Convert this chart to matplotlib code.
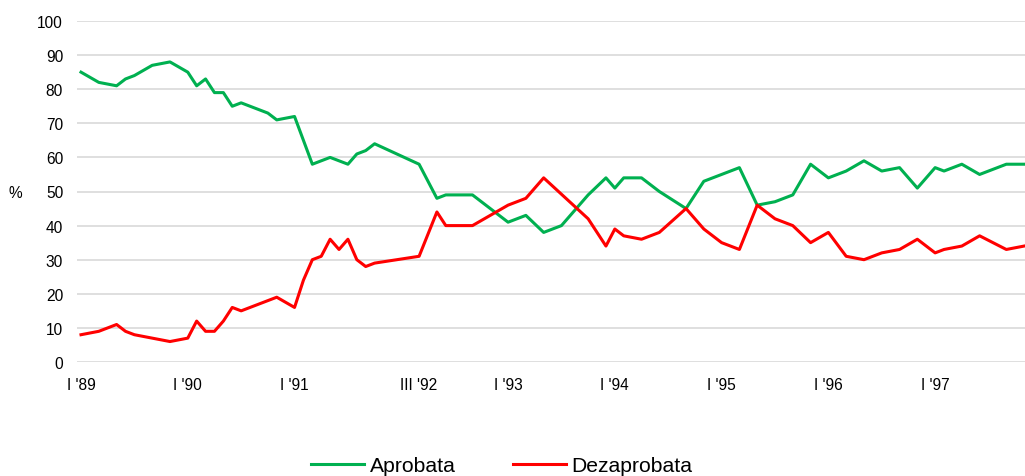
import matplotlib
matplotlib.use("Agg")
import matplotlib.pyplot as plt

plt.rcParams['font.family'] = ['Liberation Sans', 'DejaVu Sans']

# category positions (survey index) where the lines bend, and the values there
approve_x = [0, 2, 4, 5, 6, 8, 10, 12, 13, 14, 15, 16, 17, 18, 21, 22, 24, 26, 28, 30,
             31, 32, 33, 38, 40, 41, 44, 48, 50, 52, 54, 57, 59, 60, 61, 63, 65, 68, 70,
             74, 76, 78, 80, 82, 84, 86, 88, 90, 92, 94, 96, 97, 99, 101, 104, 106]
approve_y = [85, 82, 81, 83, 84, 87, 88, 85, 81, 83, 79, 79, 75, 76, 73, 71, 72, 58, 60, 58,
             61, 62, 64, 58, 48, 49, 49, 41, 43, 38, 40, 49, 54, 51, 54, 54, 50, 45, 53,
             57, 46, 47, 49, 58, 54, 56, 59, 56, 57, 51, 57, 56, 58, 55, 58, 58]

disapprove_x = [0, 2, 4, 5, 6, 10, 12, 13, 14, 15, 16, 17, 18, 22, 24, 25, 26, 27, 28, 29,
                30, 31, 32, 33, 38, 40, 41, 44, 48, 50, 52, 57, 59, 60, 61, 63, 65, 68, 70,
                72, 74, 76, 78, 80, 82, 84, 86, 88, 90, 92, 94, 96, 97, 99, 101, 104, 106]
disapprove_y = [8, 9, 11, 9, 8, 6, 7, 12, 9, 9, 12, 16, 15, 19, 16, 24, 30, 31, 36, 33,
                36, 30, 28, 29, 31, 44, 40, 40, 46, 48, 54, 42, 34, 39, 37, 36, 38, 45, 39,
                35, 33, 46, 42, 40, 35, 38, 31, 30, 32, 33, 36, 32, 33, 34, 37, 33, 34]

tick_pos = [0, 12, 24, 38, 48, 60, 72, 84, 96]
tick_labels = ["I '89", "I '90", "I '91", "III '92", "I '93", "I '94", "I '95", "I '96", "I '97"]

fig = plt.figure(figsize=(10.25, 4.77), dpi=100)
ax = fig.add_axes([77/1025, 114/477, 948/1025, 341/477])

ax.plot(approve_x, approve_y, color='#00B050', lw=2.2, label='Aprobata', solid_joinstyle='round')
ax.plot(disapprove_x, disapprove_y, color='#FF0000', lw=2.2, label='Dezaprobata', solid_joinstyle='round')

ax.set_ylim(0, 100)
ax.set_xlim(-0.45, 106.1)
ax.set_yticks(range(0, 101, 10))
ax.set_xticks(tick_pos)
ax.set_xticklabels(tick_labels)
ax.yaxis.grid(True, color='#d9d9d9', lw=1.2)
ax.set_axisbelow(True)
for s in ax.spines.values():
    s.set_visible(False)
ax.tick_params(axis='both', length=0, labelsize=11.2, colors='black')
ax.tick_params(axis='y', pad=10)
ax.tick_params(axis='x', pad=11)

fig.text(15/1025, 1 - 193/477, '%', fontsize=11.2, ha='center', va='center')

fig.legend(loc='center', bbox_to_anchor=(502/1025, 1 - 467/477), ncol=2, frameon=False,
           fontsize=15.2, handlelength=2.5, handletextpad=0.25, columnspacing=2.75)

fig.savefig('out.png', dpi=100)
